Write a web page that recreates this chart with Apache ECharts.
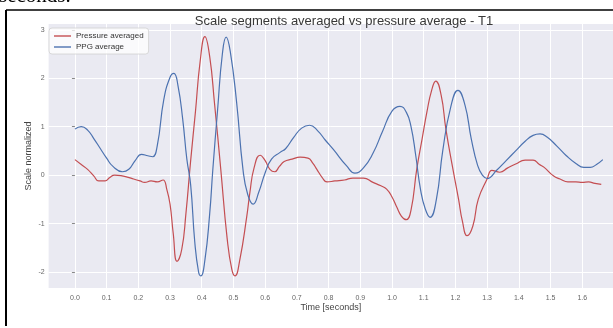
<!DOCTYPE html>
<html>
<head>
<meta charset="utf-8">
<script src="https://cdn.jsdelivr.net/npm/echarts@6/dist/echarts.min.js"></script>
<style>
  html, body { margin: 0; padding: 0; background: #ffffff; }
  #chart { width: 613px; height: 328px; }
</style>
</head>
<body>
<div id="chart"></div>
<script>
// Averaged PPG segment (time in seconds, normalized scale)
const ppgTime = [0.00, 0.02, 0.04, 0.06, 0.08, 0.10, 0.12, 0.15, 0.17, 0.19, 0.21, 0.23, 0.245, 0.26, 0.28, 0.30, 0.312, 0.325, 0.34, 0.353, 0.365, 0.378, 0.39, 0.397, 0.41, 0.425, 0.435, 0.45, 0.465, 0.477, 0.49, 0.51, 0.53, 0.545, 0.562, 0.58, 0.60, 0.62, 0.647, 0.665, 0.69, 0.715, 0.74, 0.765, 0.79, 0.815, 0.857, 0.883, 0.91, 0.94, 0.97, 1.00, 1.025, 1.045, 1.06, 1.075, 1.09, 1.105, 1.12, 1.14, 1.16, 1.185, 1.208, 1.23, 1.25, 1.27, 1.285, 1.30, 1.33, 1.36, 1.39, 1.42, 1.445, 1.467, 1.49, 1.52, 1.55, 1.58, 1.605, 1.625, 1.645, 1.665];
const ppgValue = [0.95, 1.00, 0.93, 0.75, 0.55, 0.35, 0.18, 0.07, 0.12, 0.30, 0.43, 0.40, 0.38, 0.62, 1.55, 2.02, 2.10, 1.85, 1.15, 0.33, -0.20, -1.38, -2.00, -2.08, -1.75, -0.80, 0.12, 1.35, 2.50, 2.85, 2.55, 1.50, 0.12, -0.40, -0.60, -0.35, 0.05, 0.33, 0.47, 0.55, 0.78, 0.97, 1.03, 0.92, 0.72, 0.53, 0.19, 0.04, 0.15, 0.45, 0.90, 1.32, 1.42, 1.30, 1.00, 0.40, -0.30, -0.70, -0.87, -0.50, 0.50, 1.40, 1.75, 1.45, 0.75, 0.20, 0.00, -0.07, 0.10, 0.30, 0.50, 0.70, 0.82, 0.85, 0.78, 0.60, 0.40, 0.24, 0.16, 0.16, 0.22, 0.32];

// Averaged pressure segment
const pressureTime = [0.00, 0.02, 0.04, 0.06, 0.075, 0.095, 0.11, 0.125, 0.145, 0.165, 0.185, 0.205, 0.22, 0.24, 0.26, 0.278, 0.29, 0.30, 0.31, 0.322, 0.337, 0.35, 0.365, 0.38, 0.395, 0.41, 0.425, 0.44, 0.46, 0.48, 0.495, 0.505, 0.52, 0.542, 0.552, 0.565, 0.584, 0.60, 0.615, 0.63, 0.645, 0.66, 0.685, 0.71, 0.735, 0.75, 0.763, 0.78, 0.795, 0.82, 0.85, 0.877, 0.91, 0.94, 0.965, 0.983, 1.00, 1.015, 1.03, 1.045, 1.06, 1.078, 1.095, 1.11, 1.125, 1.138, 1.155, 1.17, 1.19, 1.21, 1.222, 1.237, 1.255, 1.272, 1.30, 1.315, 1.34, 1.365, 1.39, 1.42, 1.445, 1.465, 1.48, 1.51, 1.53, 1.555, 1.58, 1.60, 1.62, 1.64, 1.66];
const pressureValue = [0.32, 0.22, 0.12, -0.02, -0.12, -0.12, -0.05, 0.00, -0.01, -0.04, -0.08, -0.12, -0.15, -0.12, -0.14, -0.10, -0.30, -0.60, -1.20, -1.78, -1.53, -0.80, 0.30, 1.30, 2.35, 2.86, 2.45, 1.50, 0.12, -1.30, -1.95, -2.08, -1.75, -0.85, -0.35, 0.15, 0.41, 0.30, 0.12, 0.07, 0.18, 0.28, 0.33, 0.37, 0.35, 0.25, 0.12, -0.05, -0.14, -0.12, -0.10, -0.06, -0.06, -0.15, -0.22, -0.29, -0.45, -0.66, -0.85, -0.92, -0.72, 0.12, 0.75, 1.30, 1.75, 1.94, 1.65, 0.95, 0.20, -0.50, -0.95, -1.25, -1.05, -0.50, -0.08, 0.10, 0.06, 0.15, 0.23, 0.31, 0.31, 0.22, 0.16, -0.02, -0.08, -0.14, -0.14, -0.15, -0.14, -0.17, -0.19];

const xTicks = [0.0, 0.1, 0.2, 0.3, 0.4, 0.5, 0.6, 0.7, 0.8, 0.9, 1.0, 1.1, 1.2, 1.3, 1.4, 1.5, 1.6];
const yTicks = [-2, -1, 0, 1, 2, 3];

const pair = (ts, vs) => ts.map((t, i) => [t, vs[i]]);

const chart = echarts.init(document.getElementById('chart'), null, { renderer: 'canvas' });

chart.setOption({
  backgroundColor: '#ffffff',
  animation: false,
  title: {
    text: 'Scale segments averaged vs pressure average - T1',
    left: 339,
    top: 10,
    textAlign: 'center',
    textStyle: { fontFamily: 'Liberation Sans', fontSize: 13, fontWeight: 'normal', color: '#383838' }
  },
  graphic: [
    {
      type: 'text',
      left: -1,
      top: -14,
      style: { text: 'seconds.', font: '21px "Liberation Serif"', fill: '#000000' },
      z: 10
    },
    {
      type: 'line',
      shape: { x1: 6, y1: 10, x2: 613, y2: 10 },
      style: { stroke: '#000000', lineWidth: 1.5 },
      z: 10
    },
    {
      type: 'line',
      shape: { x1: 6, y1: 10, x2: 6, y2: 326 },
      style: { stroke: '#000000', lineWidth: 2 },
      z: 10
    }
  ],
  legend: {
    orient: 'vertical',
    left: 49,
    top: 28,
    icon: 'rect',
    itemWidth: 17,
    itemHeight: 1.4,
    itemGap: 3,
    padding: [4, 5, 3, 5],
    backgroundColor: 'rgba(255,255,255,0.75)',
    borderColor: '#d0d0d0',
    borderWidth: 0.8,
    borderRadius: 3,
    textStyle: { fontFamily: 'Liberation Sans', fontSize: 8, color: '#333333' },
    data: ['Pressure averaged', 'PPG average']
  },
  grid: {
    left: 48.6,
    top: 24,
    right: 0,
    height: 264,
    show: true,
    backgroundColor: '#EAEAF2',
    borderWidth: 0
  },
  xAxis: {
    type: 'value',
    min: -0.083,
    max: 1.697,
    name: 'Time [seconds]',
    nameLocation: 'middle',
    nameGap: 15,
    nameMoveOverlap: false,
    nameTextStyle: { fontFamily: 'Liberation Sans', fontSize: 9, color: '#444444' },
    axisLine: { show: false },
    axisTick: { show: false, customValues: xTicks },
    axisLabel: {
      customValues: xTicks,
      margin: 7,
      fontFamily: 'Liberation Sans',
      fontSize: 7,
      color: '#666666',
      formatter: v => v.toFixed(1)
    },
    splitLine: { show: true, lineStyle: { color: '#ffffff', width: 1 } }
  },
  yAxis: {
    type: 'value',
    min: -2.33,
    max: 3.12,
    name: 'Scale normalized',
    nameLocation: 'middle',
    nameGap: 16,
    nameMoveOverlap: false,
    nameTextStyle: { fontFamily: 'Liberation Sans', fontSize: 9, color: '#444444' },
    axisLine: { show: false },
    axisTick: { show: true, length: 3, customValues: yTicks, lineStyle: { color: '#888888', width: 1 } },
    axisLabel: {
      customValues: yTicks,
      margin: 4,
      fontFamily: 'Liberation Sans',
      fontSize: 7,
      color: '#666666'
    },
    splitLine: { show: true, lineStyle: { color: '#ffffff', width: 1 } }
  },
  series: [
    {
      name: 'Pressure averaged',
      type: 'line',
      data: pair(pressureTime, pressureValue),
      symbol: 'none',
      smooth: 0.5,
      lineStyle: { color: '#C44E52', width: 1.2 },
      itemStyle: { color: '#C44E52' }
    },
    {
      name: 'PPG average',
      type: 'line',
      data: pair(ppgTime, ppgValue),
      symbol: 'none',
      smooth: 0.5,
      lineStyle: { color: '#4C72B0', width: 1.2 },
      itemStyle: { color: '#4C72B0' }
    }
  ]
});
</script>
</body>
</html>
